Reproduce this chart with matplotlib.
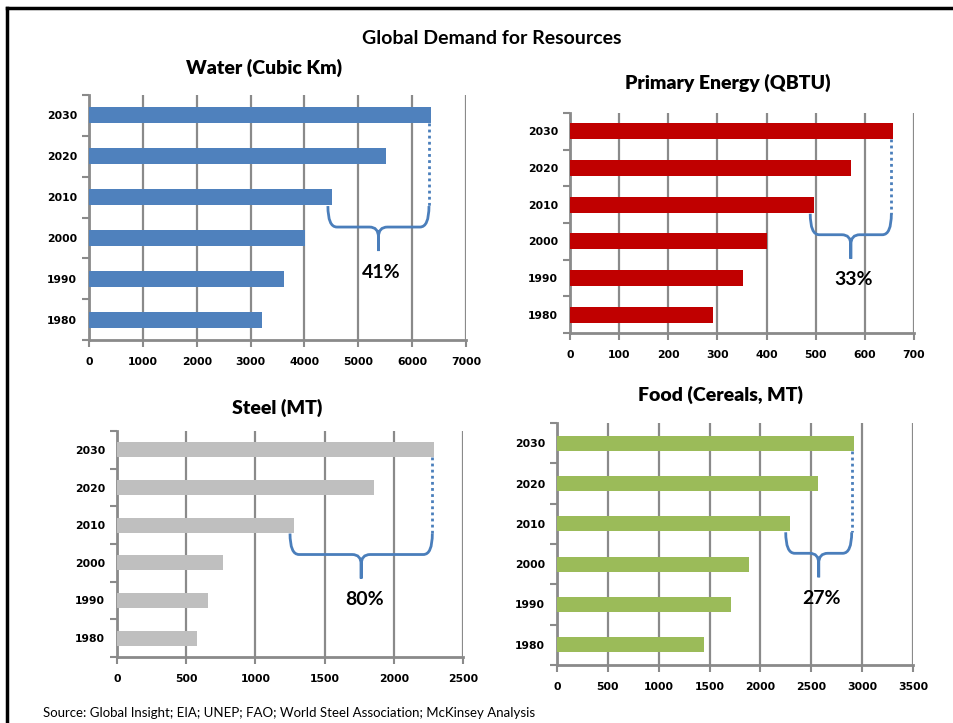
import matplotlib
matplotlib.use('Agg')
import matplotlib.pyplot as plt
from matplotlib.lines import Line2D
from matplotlib.patches import PathPatch
from matplotlib.path import Path
from matplotlib.transforms import IdentityTransform

W, H = 954, 723

# Data
years = ['1980', '1990', '2000', '2010', '2020', '2030']
water = [3210, 3620, 4010, 4510, 5520, 6350]
energy = [291, 353, 400, 497, 572, 658]
steel = [577, 661, 769, 1279, 1858, 2293]
food = [1442, 1711, 1885, 2288, 2563, 2917]

titles = ['Water (Cubic Km)', 'Primary Energy (QBTU)', 'Steel (MT)',
          'Food (Cereals, MT)']
growth = ['41%', '33%', '80%', '27%']
x_max = [7000, 700, 2500, 3500]
x_step = [1000, 100, 500, 500]
colors = ['#4f81bd', '#c00000', '#bfbfbf', '#9bbb59']

# Layout, in pixels from the top-left corner: (left, top, right, bottom)
BOXES = [(89, 95, 466, 340), (570, 113, 914, 333),
         (117, 431, 463, 657), (557, 423, 913, 665)]
TITLE_POS = [(264, 68), (728, 83), (277, 408), (721, 395)]
BAR_HEIGHT = [0.39, 0.44, 0.39, 0.37]

GRID = '#8a8a8a'
BRACE = '#4a7ebb'
TICKFONT = dict(family='DejaVu Sans', weight='bold', size=7.8)


def brace(fig, ax, values, bh):
    """Curly brace from the 2010 bar end to the 2030 bar end."""
    xl, top = ax.transData.transform((values[3], 3 - bh / 2))
    xr, bar30 = ax.transData.transform((values[5], 5 - bh / 2))
    xl -= 4
    xr -= 2
    top -= 1
    horiz = top - 21
    tip = top - 45
    xm = (xl + xr) / 2
    r = 9
    verts, codes = [], []
    for x0, s in ((xl, 1), (xr, -1)):
        verts += [(x0, top), (x0, horiz), (x0 + s * r, horiz),
                  (xm - s * r, horiz), (xm, horiz), (xm, horiz - 10),
                  (xm, tip)]
        codes += [Path.MOVETO, Path.CURVE3, Path.CURVE3, Path.LINETO,
                  Path.CURVE3, Path.CURVE3, Path.LINETO]
    fig.add_artist(PathPatch(Path(verts, codes), transform=IdentityTransform(),
                             fill=False, ec=BRACE, lw=2))
    # dotted drop from the 2030 bar
    fig.add_artist(Line2D([xr, xr], [bar30, top], transform=IdentityTransform(),
                          color=BRACE, lw=2, linestyle=(0, (1, 1.2))))
    return xm, tip


fig = plt.figure(figsize=(W / 100, H / 100), dpi=100)

# frame lines (top and left only are visible)
fig.add_artist(Line2D([7 / W, 1], [1 - 8 / H, 1 - 8 / H], color='black', lw=2.5))
fig.add_artist(Line2D([7 / W, 7 / W], [0, 1 - 8 / H], color='black', lw=2.5))

fig.text(492 / W, 1 - 38 / H, 'Global Demand for Resources', ha='center',
         va='center', family='Lato', weight='bold', size=14)
fig.text(43 / W, 1 - 713 / H,
         'Source: Global Insight; EIA; UNEP; FAO; World Steel Association; '
         'McKinsey Analysis', ha='left', va='center', family='Lato', size=9.5)

series = [water, energy, steel, food]
for i, values in enumerate(series):
    left, top, right, bottom = BOXES[i]
    ax = fig.add_axes([left / W, 1 - bottom / H, (right - left) / W,
                       (bottom - top) / H])
    bh = BAR_HEIGHT[i]
    ax.barh(range(len(years)), values, height=bh, color=colors[i], zorder=3)

    ax.set_xlim(0, x_max[i])
    ax.set_ylim(-0.5, len(years) - 0.5)
    ax.set_xticks(range(0, x_max[i] + 1, x_step[i]))
    ax.set_yticks([k - 0.5 for k in range(len(years) + 1)])
    ax.set_yticks(range(len(years)), minor=True)
    ax.set_yticklabels(years, minor=True, fontdict=TICKFONT)
    ax.set_xticklabels([str(t) for t in range(0, x_max[i] + 1, x_step[i])],
                       fontdict=TICKFONT)
    ax.tick_params(axis='y', which='major', length=5, width=1.5, color=GRID,
                   labelleft=False)
    ax.tick_params(axis='y', which='minor', length=0, pad=8.5)
    ax.tick_params(axis='x', length=5, width=1.5, color=GRID, pad=7.5)
    ax.grid(axis='x', color=GRID, lw=1.6, zorder=0)
    ax.set_axisbelow(True)
    for side in ('top', 'right'):
        ax.spines[side].set_visible(False)
    for side in ('left', 'bottom'):
        ax.spines[side].set_color(GRID)
        ax.spines[side].set_linewidth(2)

    tx, ty = TITLE_POS[i]
    fig.text(tx / W, 1 - ty / H, titles[i], ha='center', va='center',
             family='Lato', weight='heavy', size=14)

    xm, tip = brace(fig, ax, values, bh)
    fig.text(xm + 3, tip - 21, growth[i], transform=IdentityTransform(),
             ha='center', va='center', family='Lato', weight='bold', size=14)

fig.savefig('out.png', dpi=100)
